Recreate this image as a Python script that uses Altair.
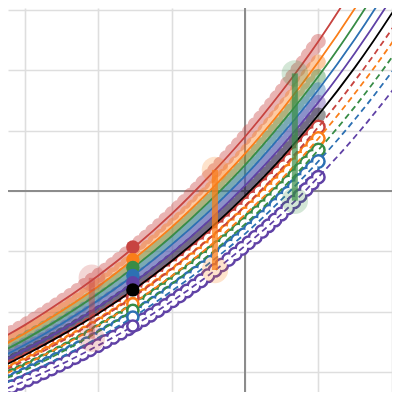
import altair as alt
import pandas as pd

# x positions (graph units) at which every curve was read
X = [-4.0, -3.5, -3.0, -2.5, -2.0, -1.5, -1.0, -0.5, 0.0, 0.5, 1.0, 1.5, 2.0, 2.5, 3.0]

SOLID_RED = [-2.87, -2.56, -2.22, -1.83, -1.40, -0.92, -0.38, 0.23, 0.90, 1.65, 2.48, 3.42, 4.46, 5.62, 6.92]
SOLID_ORANGE = [-2.99, -2.69, -2.36, -1.99, -1.58, -1.11, -0.60, -0.02, 0.62, 1.34, 2.14, 3.03, 4.03, 5.14, 6.38]
SOLID_GREEN = [-3.07, -2.78, -2.46, -2.10, -1.70, -1.25, -0.75, -0.19, 0.43, 1.13, 1.90, 2.77, 3.74, 4.82, 6.02]
SOLID_BLUE = [-3.14, -2.86, -2.55, -2.20, -1.81, -1.38, -0.89, -0.35, 0.25, 0.93, 1.68, 2.52, 3.46, 4.50, 5.67]
SOLID_PURPLE = [-3.21, -2.94, -2.63, -2.30, -1.92, -1.50, -1.03, -0.50, 0.09, 0.74, 1.47, 2.29, 3.20, 4.22, 5.36]
BLACK = [-3.28, -3.02, -2.72, -2.39, -2.03, -1.62, -1.16, -0.65, -0.08, 0.55, 1.26, 2.05, 2.94, 3.92, 5.02]
DASH_RED = [-3.35, -3.09, -2.81, -2.49, -2.13, -1.74, -1.29, -0.80, -0.25, 0.37, 1.06, 1.83, 2.68, 3.64, 4.71]
DASH_ORANGE = [-3.41, -3.16, -2.88, -2.57, -2.23, -1.84, -1.41, -0.93, -0.39, 0.20, 0.87, 1.62, 2.45, 3.38, 4.42]
DASH_GREEN = [-3.48, -3.23, -2.97, -2.67, -2.33, -1.96, -1.54, -1.07, -0.55, 0.03, 0.68, 1.40, 2.21, 3.11, 4.12]
DASH_BLUE = [-3.54, -3.31, -3.04, -2.75, -2.43, -2.07, -1.66, -1.21, -0.71, -0.14, 0.49, 1.19, 1.97, 2.84, 3.82]
DASH_PURPLE = [-3.62, -3.40, -3.15, -2.87, -2.56, -2.22, -1.83, -1.40, -0.91, -0.38, 0.23, 0.90, 1.65, 2.48, 3.42]

RED, ORANGE, GREEN, BLUE, PURPLE, BLK = "#c74440", "#fa7e19", "#388c46", "#2d70b3", "#6042a6", "#000000"

SOLID = [("red", SOLID_RED, RED), ("orange", SOLID_ORANGE, ORANGE), ("green", SOLID_GREEN, GREEN),
         ("blue", SOLID_BLUE, BLUE), ("purple", SOLID_PURPLE, PURPLE)]
DASHED = [("red_d", DASH_RED, RED), ("orange_d", DASH_ORANGE, ORANGE), ("green_d", DASH_GREEN, GREEN),
          ("blue_d", DASH_BLUE, BLUE), ("purple_d", DASH_PURPLE, PURPLE)]

DOTS_END_X = 1.0  # the sampled points stop here

# highlighted column of opaque points
COLUMN_X = -1.53
COLUMN_SOLID_Y = [-0.93, -1.14, -1.27, -1.40, -1.52]
COLUMN_BLACK_Y = -1.64
COLUMN_DASH_Y = [-1.76, -1.87, -1.98, -2.09, -2.24]

# vertical range bars
BAR_X = [-2.09, -0.41, 0.68]
BAR_TOP = [-1.44, 0.35, 1.95]
BAR_BOTTOM = [-2.45, -1.31, -0.16]
BAR_COLORS = [RED, ORANGE, GREEN]
BAR_OPACITY = [0.45, 0.75, 0.7]

XDOM = [-3.2333, 2.0055]
YDOM = [-3.3333, 3.0348]

axis_x = alt.Axis(values=[-3, -2, -1, 0, 1, 2], grid=True, labels=False, ticks=False, domain=False,
                  title=None, gridColor="#dedede", gridWidth=1.6)
axis_y = alt.Axis(values=[-3, -2, -1, 0, 1, 2, 3], grid=True, labels=False, ticks=False, domain=False,
                  title=None, gridColor="#dedede", gridWidth=1.6)


def xe(field="x"):
    return alt.X(f"{field}:Q", scale=alt.Scale(domain=XDOM, nice=False, zero=False), axis=axis_x)


def ye(field="y"):
    return alt.Y(f"{field}:Q", scale=alt.Scale(domain=YDOM, nice=False, zero=False), axis=axis_y)


def frame(values, upto=None):
    rows = [{"x": x, "y": y} for x, y in zip(X, values) if upto is None or x <= upto + 1e-9]
    return pd.DataFrame(rows)


layers = []

# axes lines
layers.append(alt.Chart(pd.DataFrame({"x": [0.0]})).mark_rule(color="#8c8c8c", strokeWidth=2).encode(x=xe()))
layers.append(alt.Chart(pd.DataFrame({"y": [0.0]})).mark_rule(color="#8c8c8c", strokeWidth=2).encode(y=ye()))

DOT_DASH = [0.1, 8.6]

# translucent filled sample points on the solid curves
for name, vals, col in SOLID + [("black", BLACK, BLK)]:
    layers.append(
        alt.Chart(frame(vals, DOTS_END_X)).mark_line(
            color=col, strokeWidth=15, strokeCap="round", strokeDash=DOT_DASH,
            strokeOpacity=0.4, interpolate="catmull-rom", clip=True
        ).encode(x=xe(), y=ye(), order=alt.Order("x:Q", sort="descending"))
    )

# red range bar sits under the point clouds
bars = pd.DataFrame({"x": BAR_X, "top": BAR_TOP, "bottom": BAR_BOTTOM, "c": BAR_COLORS, "o": BAR_OPACITY})
ends = pd.DataFrame({"x": BAR_X * 2, "y": BAR_TOP + BAR_BOTTOM, "c": BAR_COLORS * 2})

# open sample points on the dashed curves
for name, vals, col in DASHED:
    df = frame(vals, DOTS_END_X)
    layers.append(
        alt.Chart(df).mark_line(
            color=col, strokeWidth=15, strokeCap="round", strokeDash=DOT_DASH,
            interpolate="catmull-rom", clip=True
        ).encode(x=xe(), y=ye(), order=alt.Order("x:Q", sort="descending"))
    )
    layers.append(
        alt.Chart(df).mark_line(
            color="white", strokeWidth=10, strokeCap="round", strokeDash=DOT_DASH,
            interpolate="catmull-rom", clip=True
        ).encode(x=xe(), y=ye(), order=alt.Order("x:Q", sort="descending"))
    )

# curves
for name, vals, col in SOLID + [("black", BLACK, BLK)]:
    layers.append(
        alt.Chart(frame(vals)).mark_line(color=col, strokeWidth=1.8, interpolate="catmull-rom", clip=True)
        .encode(x=xe(), y=ye())
    )
for name, vals, col in DASHED:
    layers.append(
        alt.Chart(frame(vals)).mark_line(color=col, strokeWidth=1.8, strokeDash=[6, 4],
                                         interpolate="catmull-rom", clip=True)
        .encode(x=xe(), y=ye())
    )

# range bars with large faint end circles
layers.append(
    alt.Chart(ends).mark_circle(size=700, opacity=0.22, clip=True)
    .encode(x=xe(), y=ye(), color=alt.Color("c:N", scale=None))
)
layers.append(
    alt.Chart(bars).mark_rule(strokeWidth=6)
    .encode(x=xe(), y=ye("top"), y2="bottom:Q", color=alt.Color("c:N", scale=None),
            opacity=alt.Opacity("o:Q", scale=None))
)

# highlighted column
col_solid = pd.DataFrame({"x": [COLUMN_X] * 5, "y": COLUMN_SOLID_Y, "c": [RED, ORANGE, GREEN, BLUE, PURPLE]})
col_dash = pd.DataFrame({"x": [COLUMN_X] * 5, "y": COLUMN_DASH_Y, "c": [RED, ORANGE, GREEN, BLUE, PURPLE]})
col_black = pd.DataFrame({"x": [COLUMN_X], "y": [COLUMN_BLACK_Y]})
layers.append(
    alt.Chart(col_solid).mark_circle(size=180, opacity=1)
    .encode(x=xe(), y=ye(), color=alt.Color("c:N", scale=None))
)
layers.append(
    alt.Chart(col_dash).mark_point(shape="circle", size=125, filled=False, fill="white", fillOpacity=1,
                                   strokeWidth=2.6, opacity=1)
    .encode(x=xe(), y=ye(), stroke=alt.Color("c:N", scale=None))
)
layers.append(
    alt.Chart(col_black).mark_circle(size=180, opacity=1, color=BLK).encode(x=xe(), y=ye())
)

chart = alt.layer(*layers).properties(
    width=384, height=384, padding=0, autosize=alt.AutoSizeParams(type="none")
).configure_view(stroke=None)

chart.save("out.html", embed_options={"renderer": "svg", "actions": False})
